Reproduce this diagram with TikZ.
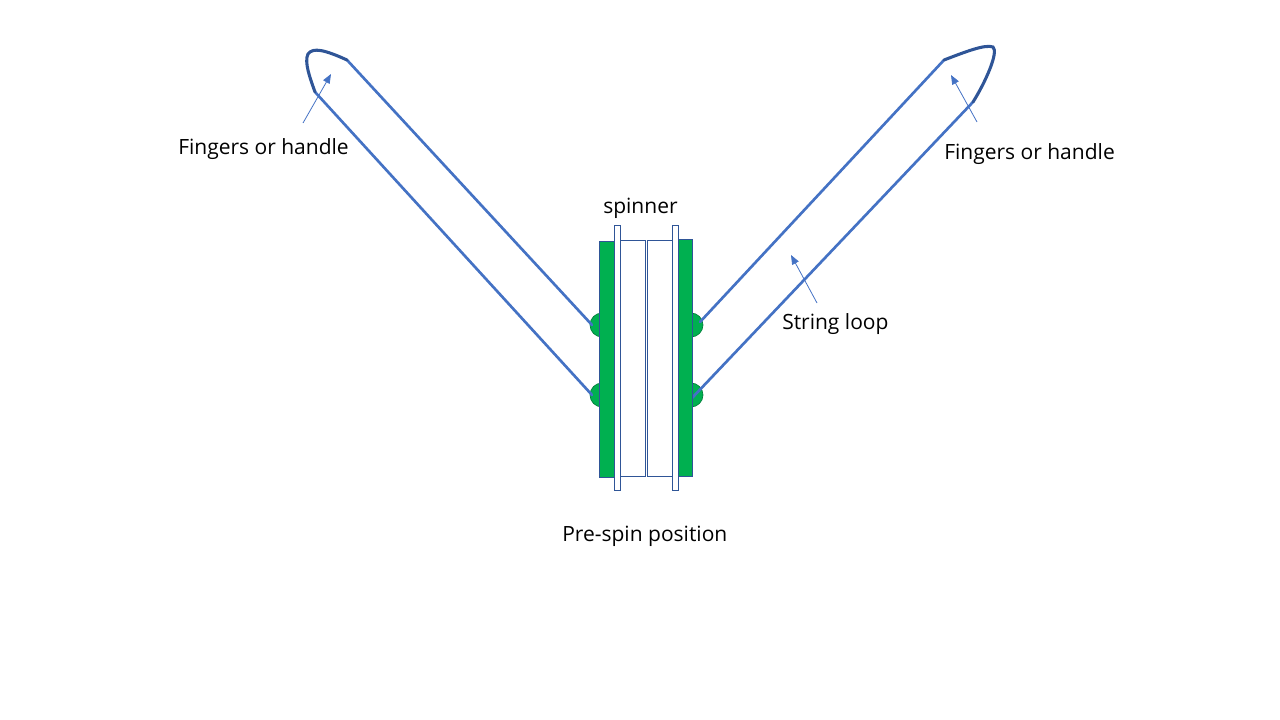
\documentclass[tikz,border=0pt]{standalone}
\usepackage{fontspec}
\setmainfont{Open Sans}
\usetikzlibrary{arrows.meta}
\definecolor{stringblue}{HTML}{4472C4}
\definecolor{tipblue}{HTML}{2F5597}
\definecolor{padgreen}{HTML}{00B050}
\tikzset{
  x=0.75pt,y=-0.75pt,
  stringline/.style={draw=stringblue,line width=2pt,line cap=round},
  tipline/.style={draw=tipblue,line width=2.3pt,line cap=round},
  pointer/.style={draw=stringblue,line width=0.6pt,-{Triangle[length=7pt,width=5.5pt]}},
  padbox/.style={draw=tipblue,fill=padgreen,line width=0.75pt},
  discbox/.style={draw=tipblue,fill=white,line width=0.75pt},
  knob/.style={draw=black!30!padgreen,fill=padgreen,line width=0.5pt},
  caption/.style={font=\fontsize{15.75pt}{18pt}\selectfont,text=black,inner sep=0pt,anchor=base west}
}
\begin{document}
\begin{tikzpicture}
\useasboundingbox (0,0) rectangle (1280,720);
% knots on the outer faces
\path[knob] (602,325) circle (12);
\path[knob] (602,395) circle (12);
\path[knob] (691,325) circle (12);
\path[knob] (691,395) circle (12);
% string loop
\coordinate (la) at (592,325);
\coordinate (lb) at (592,395);
\coordinate (lc) at (347,60);
\coordinate (ld) at (315,92);
\coordinate (ra) at (700,322);
\coordinate (rb) at (692,398);
\coordinate (rc) at (944,60);
\coordinate (rd) at (973,102);
\draw[stringline] (la) -- (lc);
\draw[stringline] (lb) -- (ld);
\draw[stringline] (ra) -- (rc);
\draw[stringline] (rb) -- (rd);
\draw[tipline] (ld) .. controls (310,78) and (304,62) .. (308,54) .. controls (313,47) and (325,50) .. (347,60);
\draw[tipline] (rc) .. controls (965,52) and (985,44) .. (993,47) .. controls (999,52) and (985,83) .. (973,102);
% spinner parts
\path[padbox] (599.5,241.5) rectangle (614,477);
\path[padbox] (678.5,239.5) rectangle (692.5,476);
\path[discbox] (620,240.5) rectangle (645.5,476);
\path[discbox] (647.5,240.5) rectangle (672.5,476);
\path[discbox] (614.5,225.5) rectangle (620.5,490.5);
\path[discbox] (672.5,225.5) rectangle (678.5,490.5);
% pointers
\coordinate (p1s) at (303,123);
\coordinate (p1e) at (331,74);
\coordinate (p2s) at (977,122);
\coordinate (p2e) at (951,75);
\coordinate (p3s) at (817,303);
\coordinate (p3e) at (791,255);
\draw[pointer] (p1s) -- (p1e);
\draw[pointer] (p2s) -- (p2e);
\draw[pointer] (p3s) -- (p3e);
% captions
\node[caption] (t1) at (178,155) {Fingers or handle};
\node[caption] (t2) at (944,160) {Fingers or handle};
\node[caption] (t3) at (782,329.5) {String loop};
\node[caption] (t4) at (603,214) {spinner};
\node[caption] (t5) at (562,541.5) {Pre-spin position};
\end{tikzpicture}
\end{document}
